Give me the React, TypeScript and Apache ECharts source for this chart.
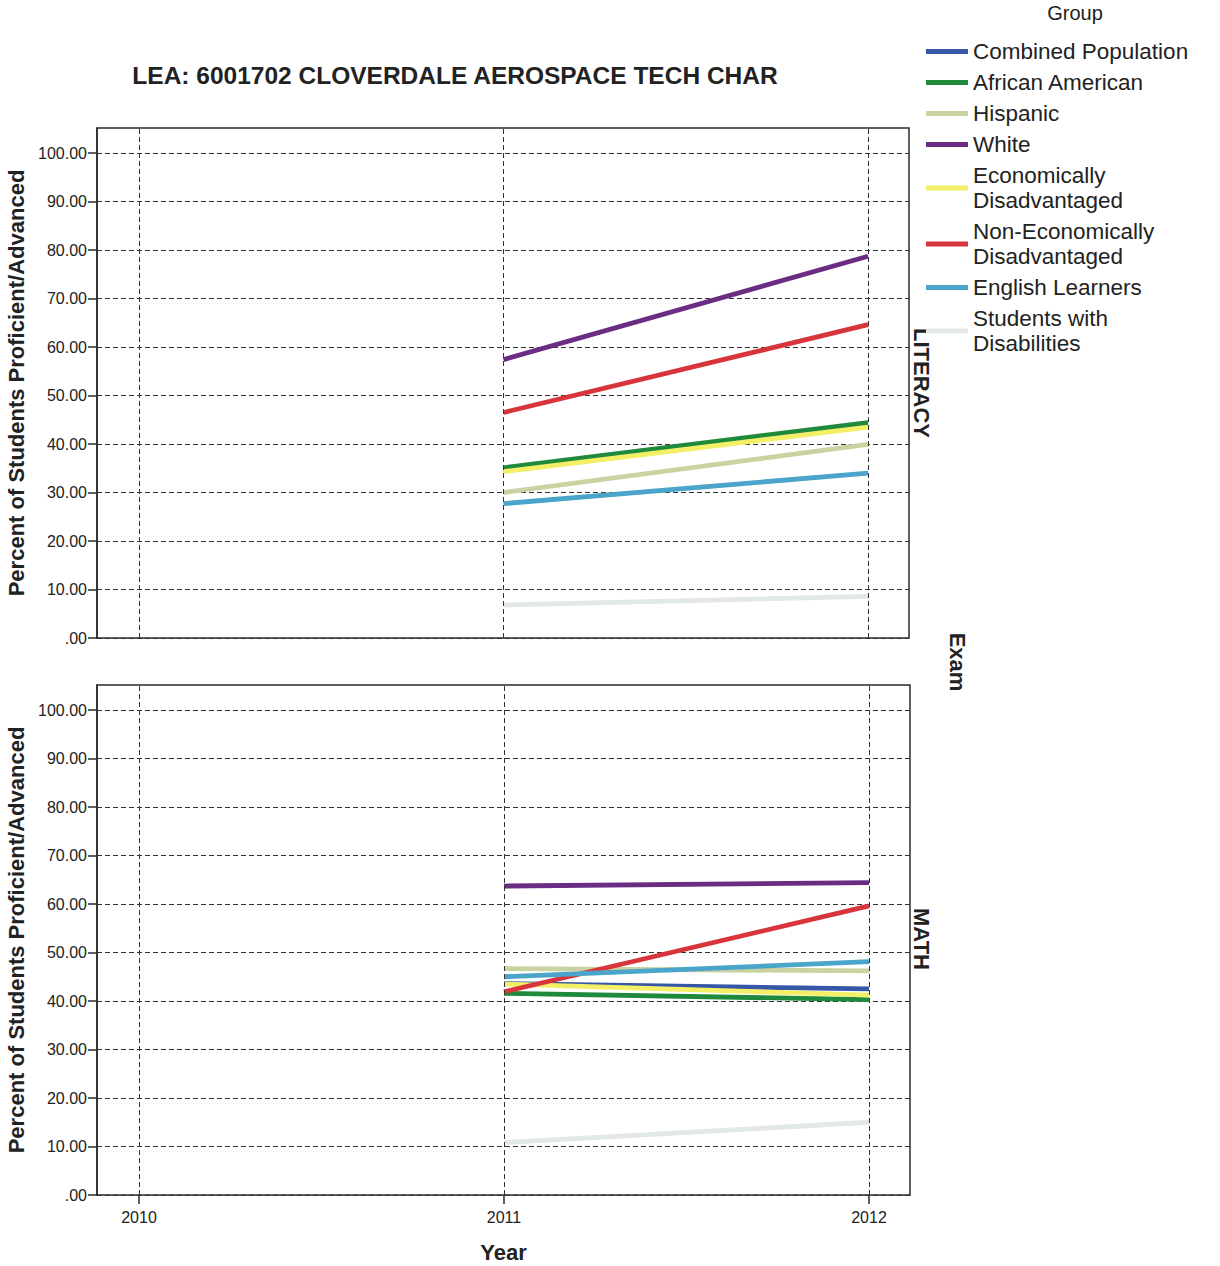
import React, { useEffect, useRef } from 'react';
import * as echarts from 'echarts';

const FONT = '"Liberation Sans", Arial, Helvetica, sans-serif';

const title = 'LEA: 6001702 CLOVERDALE AEROSPACE TECH CHAR';
const dataYears = [2011, 2012];
const axisYears = [2010, 2011, 2012];
const yTicks = [0, 10, 20, 30, 40, 50, 60, 70, 80, 90, 100];
const exams = ['LITERACY', 'MATH'];

const groups = [
  'Combined Population',
  'African American',
  'Hispanic',
  'White',
  'Economically Disadvantaged',
  'Non-Economically Disadvantaged',
  'English Learners',
  'Students with Disabilities',
];
const legendLabels = [
  'Combined Population',
  'African American',
  'Hispanic',
  'White',
  'Economically\nDisadvantaged',
  'Non-Economically\nDisadvantaged',
  'English Learners',
  'Students with\nDisabilities',
];
const colors = ['#3656a6', '#1f8a3c', '#c9d3a2', '#6b2c84', '#f3ef66', '#d8343c', '#4ba4c9', '#e2e7e7'];

// LITERACY values (2011, 2012)
const litCombined = [34.6, 44.0];
const litAfrican = [35.1, 44.4];
const litHispanic = [30.0, 39.9];
const litWhite = [57.4, 78.7];
const litEcon = [34.3, 43.5];
const litNonEcon = [46.5, 64.6];
const litEL = [27.7, 34.0];
const litSWD = [6.8, 8.6];

// MATH values (2011, 2012)
const mathCombined = [43.6, 42.5];
const mathAfrican = [41.6, 40.3];
const mathHispanic = [46.7, 46.2];
const mathWhite = [63.7, 64.4];
const mathEcon = [43.5, 41.2];
const mathNonEcon = [41.9, 59.6];
const mathEL = [45.0, 48.1];
const mathSWD = [10.8, 15.0];

const literacy = [litCombined, litAfrican, litHispanic, litWhite, litEcon, litNonEcon, litEL, litSWD];
const math = [mathCombined, mathAfrican, mathHispanic, mathWhite, mathEcon, mathNonEcon, mathEL, mathSWD];
const panels = [literacy, math];

export default function App() {
  const ref = useRef<HTMLDivElement>(null);
  useEffect(() => {
    if (!ref.current) return;
    const chart = echarts.init(ref.current, null, { renderer: 'svg' });
    const grids = [
      { left: 97, top: 128, width: 812, height: 510 },
      { left: 97, top: 685, width: 813, height: 510 },
    ];
    const xMin = 2010 - 42 / 365;
    const xMax = 2012 + 41 / 365;
    const yMax = 510 / 4.85;

    const series: any[] = [];
    panels.forEach((_, p) => {
      series.push({
        type: 'line',
        name: '_grid' + p,
        xAxisIndex: p,
        yAxisIndex: p,
        data: [],
        silent: true,
        z: 1,
        markLine: {
          silent: true,
          symbol: 'none',
          label: { show: false },
          lineStyle: { type: [5, 3], color: '#333', width: 1 },
          data: axisYears.map((y) => ({ xAxis: y })),
        },
      });
    });
    groups.forEach((g, i) => {
      panels.forEach((panel, p) => {
        series.push({
          type: 'line',
          name: g,
          xAxisIndex: p,
          yAxisIndex: p,
          data: dataYears.map((y, k) => [y, panel[i][k]]),
          symbol: 'none',
          lineStyle: { width: 4.8, color: colors[i] },
          itemStyle: { color: colors[i] },
          z: 3,
        });
      });
    });

    const option: any = {
      animation: false,
      backgroundColor: '#ffffff',
      textStyle: { fontFamily: FONT },
      grid: grids.map((g) => ({
        ...g,
        show: true,
        containLabel: false,
        outerBoundsMode: 'none',
        borderColor: '#2a2a2a',
        borderWidth: 1.5,
        backgroundColor: 'transparent',
      })),
      xAxis: grids.map((_, p) => ({
        type: 'value',
        gridIndex: p,
        min: xMin,
        max: xMax,
        splitLine: { show: false },
        axisLine: { show: false },
        axisTick: {
          show: p === 1,
          customValues: axisYears,
          length: 9,
          lineStyle: { color: '#2a2a2a', width: 1.5 },
        },
        axisLabel: {
          show: p === 1,
          customValues: axisYears,
          formatter: (v: number) => String(Math.round(v)),
          fontSize: 16,
          color: '#222',
          margin: 14,
          fontFamily: FONT,
        },
        name: p === 1 ? 'Year' : '',
        nameLocation: 'middle',
        nameGap: 46,
        nameTextStyle: { fontSize: 22, fontWeight: 'bold', color: '#222', fontFamily: FONT },
      })),
      yAxis: grids.map((_, p) => ({
        type: 'value',
        gridIndex: p,
        min: 0,
        max: yMax,
        interval: 10,
        axisLine: { show: true, lineStyle: { color: '#2a2a2a', width: 1.5 } },
        axisTick: { show: true, customValues: yTicks, length: 9, lineStyle: { color: '#2a2a2a', width: 1.5 } },
        axisLabel: {
          customValues: yTicks,
          formatter: (v: number) => (v === 0 ? '.00' : v.toFixed(2)),
          fontSize: 16,
          color: '#222',
          margin: 10,
          fontFamily: FONT,
        },
        splitLine: { show: true, lineStyle: { type: [5, 3], color: '#333', width: 1 } },
        name: 'Percent of Students Proficient/Advanced',
        nameLocation: 'middle',
        nameGap: 68,
        nameTextStyle: { fontSize: 22, fontWeight: 'bold', color: '#222', fontFamily: FONT },
      })),
      legend: {
        data: groups,
        left: 926,
        top: 39,
        padding: 0,
        orient: 'vertical',
        selectedMode: false,
        icon: 'rect',
        itemWidth: 42,
        itemHeight: 5,
        itemGap: 6,
        formatter: (name: string) => legendLabels[groups.indexOf(name)] || name,
        textStyle: { fontSize: 22.5, lineHeight: 25, color: '#222', fontFamily: FONT },
      },
      graphic: [
        {
          type: 'text',
          x: 455,
          y: 75,
          style: { text: title, fontSize: 24.5, fontWeight: 'bold', fill: '#222', textAlign: 'center', textVerticalAlign: 'middle', fontFamily: FONT },
        },
        {
          type: 'text',
          x: 1075,
          y: 13,
          style: { text: 'Group', fontSize: 20, fill: '#222', textAlign: 'center', textVerticalAlign: 'middle', fontFamily: FONT },
        },
        ...exams.map((e, p) => ({
          type: 'text',
          x: 921,
          y: p === 0 ? 383 : 939,
          rotation: -Math.PI / 2,
          style: { text: e, fontSize: 22, fontWeight: 'bold', fill: '#222', textAlign: 'center', textVerticalAlign: 'middle', fontFamily: FONT },
        })),
        {
          type: 'text',
          x: 957,
          y: 662,
          rotation: -Math.PI / 2,
          style: { text: 'Exam', fontSize: 22, fontWeight: 'bold', fill: '#222', textAlign: 'center', textVerticalAlign: 'middle', fontFamily: FONT },
        },
      ],
      series,
    };
    chart.setOption(option);
    return () => chart.dispose();
  }, []);
  return <div ref={ref} style={{ position: 'fixed', left: 0, top: 0, width: 1220, height: 1266, background: '#fff' }} />;
}
